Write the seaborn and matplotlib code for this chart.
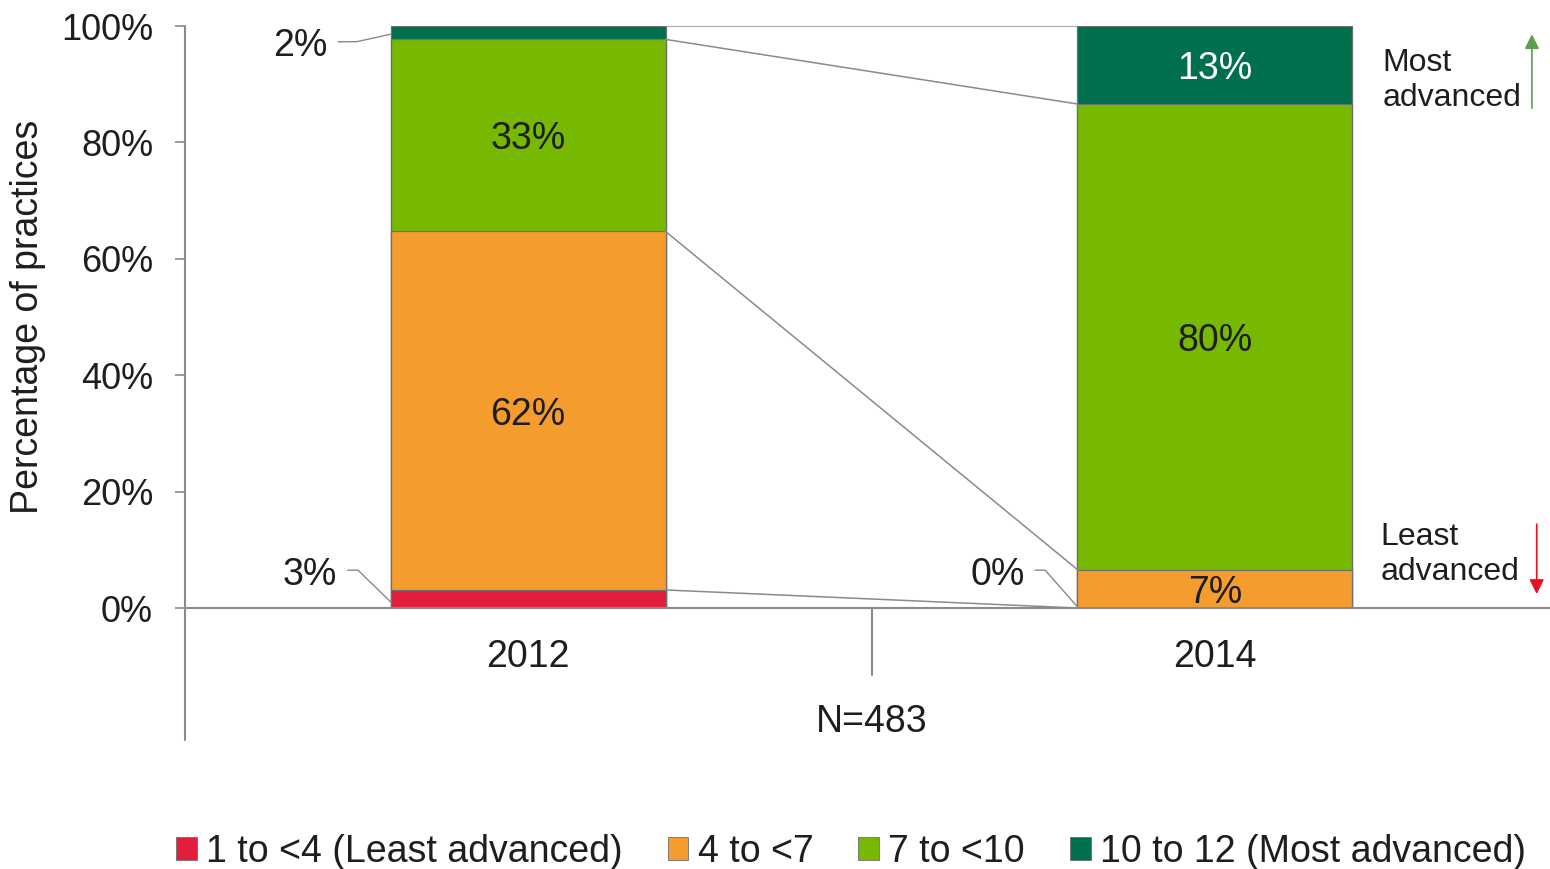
import seaborn as sns
import pandas as pd
import matplotlib.pyplot as plt

YEARS = ["2012", "2014"]
SERIES = ["1 to <4 (Least advanced)", "4 to <7", "7 to <10",
          "10 to 12 (Most advanced)"]
COLORS = ["#E31E3C", "#F59C2E", "#77B900", "#006F4E"]
VALUES_2012 = [3.1, 61.6, 33.0, 2.3]
VALUES_2014 = [0.0, 6.6, 80.0, 13.4]
N_LABEL = "N=483"

GRAY = "#8a8a8a"
TEXT = "#1e1e1e"
FS = 27


def build_frame():
    """Long table with the stacked top of every segment."""
    rows = []
    for year, vals in zip(YEARS, [VALUES_2012, VALUES_2014]):
        top = 0
        for s, v in zip(SERIES, vals):
            bottom = top
            top = top + v
            rows.append({'year': year, 'series': s, 'value': v,
                         'bottom': bottom, 'top': top})
    return pd.DataFrame(rows)


def main():
    sns.set_theme(style="white")
    plt.rcParams['font.family'] = ['Liberation Sans', 'DejaVu Sans']

    df = build_frame()
    fig = plt.figure(figsize=(15.5, 8.69), dpi=100)
    ax = fig.add_axes([185 / 1550, 261 / 869, 1373 / 1550, 582 / 869])

    # stacked bars: draw cumulative tops from the highest series down
    for s, c in reversed(list(zip(SERIES, COLORS))):
        sub = df[df['series'] == s]
        sns.barplot(data=sub, x='year', y='top', color=c, width=0.4,
                    saturation=1, errorbar=None, edgecolor="#6f6f6f",
                    linewidth=0.9, ax=ax, order=YEARS)

    ax.set_xlim(-0.5, 1.5)
    ax.set_ylim(0, 100)

    # series lines between the two bars
    for s in SERIES:
        a = df[(df['series'] == s) & (df['year'] == YEARS[0])]['top'].iloc[0]
        b = df[(df['series'] == s) & (df['year'] == YEARS[1])]['top'].iloc[0]
        ax.plot([0.2, 0.8], [a, b], color=GRAY, lw=1.1, zorder=1)
    ax.plot([0.2, 0.8], [0, 0], color=GRAY, lw=1.1, zorder=1)

    # data labels inside the larger segments
    for i, row in df.iterrows():
        x = YEARS.index(row['year'])
        mid = (row['bottom'] + row['top']) / 2
        txt = f"{row['value']:.0f}%"
        if row['value'] >= 5:
            col = "white" if row['series'] == SERIES[3] else TEXT
            ax.text(x, mid, txt, ha='center', va='center_baseline',
                    fontsize=FS, color=col, zorder=5)

    # small labels with leader lines
    ax.text(-0.332, 97.3, "2%", ha='center', va='center_baseline',
            fontsize=FS, color=TEXT)
    ax.plot([-0.277, -0.25, -0.2], [97.3, 97.3, 98.6], color=GRAY, lw=1)
    ax.text(-0.318, 6.3, "3%", ha='center', va='center_baseline',
            fontsize=FS, color=TEXT)
    ax.plot([-0.263, -0.248, -0.2], [6.5, 6.5, 1.0], color=GRAY, lw=1)
    ax.text(0.684, 6.3, "0%", ha='center', va='center_baseline',
            fontsize=FS, color=TEXT)
    ax.plot([0.738, 0.753, 0.8], [6.5, 6.5, 0.2], color=GRAY, lw=1)

    # axes styling
    sns.despine(ax=ax, top=True, right=True, left=True)
    ax.spines['bottom'].set_color(GRAY)
    ax.spines['bottom'].set_linewidth(1.5)
    ax.plot([-0.5, -0.5], [-22.7, 100], color=GRAY, lw=1.5,
            clip_on=False, zorder=6)
    ax.plot([0.5, 0.5], [0, -11.5], color=GRAY, lw=1.5, clip_on=False)
    ax.text(0.5, -18.9, N_LABEL, ha='center', va='center_baseline',
            fontsize=FS, color=TEXT)

    ax.set_yticks([0, 20, 40, 60, 80, 100])
    ax.set_yticklabels([f"{v}%" for v in range(0, 101, 20)])
    ax.tick_params(axis='y', left=True, length=7, width=1.2, color=GRAY,
                   pad=16, labelsize=FS - 1, labelcolor=TEXT)
    ax.tick_params(axis='x', bottom=False, pad=16, labelsize=FS,
                   labelcolor=TEXT)
    ax.set_xlabel("")
    ax.set_ylabel("")
    fig.text(28 / 1550, 1 - 317 / 869, "Percentage of practices",
             rotation=90, ha='center', va='center', fontsize=FS,
             color=TEXT)

    # direction hints on the right
    ax.text(1.244, 90.6, "Most\nadvanced", ha='left', va='center',
            fontsize=FS - 4, color=TEXT, linespacing=1.2)
    ax.text(1.241, 9.2, "Least\nadvanced", ha='left', va='center',
            fontsize=FS - 4, color=TEXT, linespacing=1.2)
    ax.annotate("", xy=(1.462, 98.6), xytext=(1.462, 85.9),
                arrowprops=dict(arrowstyle='-|>', color="#5E9E4C", lw=1.2,
                                mutation_scale=22, shrinkA=0, shrinkB=0))
    ax.annotate("", xy=(1.469, 2.4), xytext=(1.469, 14.4),
                arrowprops=dict(arrowstyle='-|>', color="#E8101E", lw=1.2,
                                mutation_scale=22, shrinkA=0, shrinkB=0))

    # legend
    handles = [plt.Rectangle((0, 0), 1, 1, facecolor=c, edgecolor="#6f6f6f",
                             linewidth=0.6) for c in COLORS]
    fig.legend(handles, SERIES, loc='center', ncol=4, frameon=False,
               bbox_to_anchor=(851 / 1550, 1 - 852 / 869), fontsize=FS,
               handlelength=0.55, handleheight=0.55, handletextpad=0.25,
               columnspacing=1.2, labelcolor=TEXT)

    fig.savefig('out.png', dpi=100)


if __name__ == '__main__':
    main()
